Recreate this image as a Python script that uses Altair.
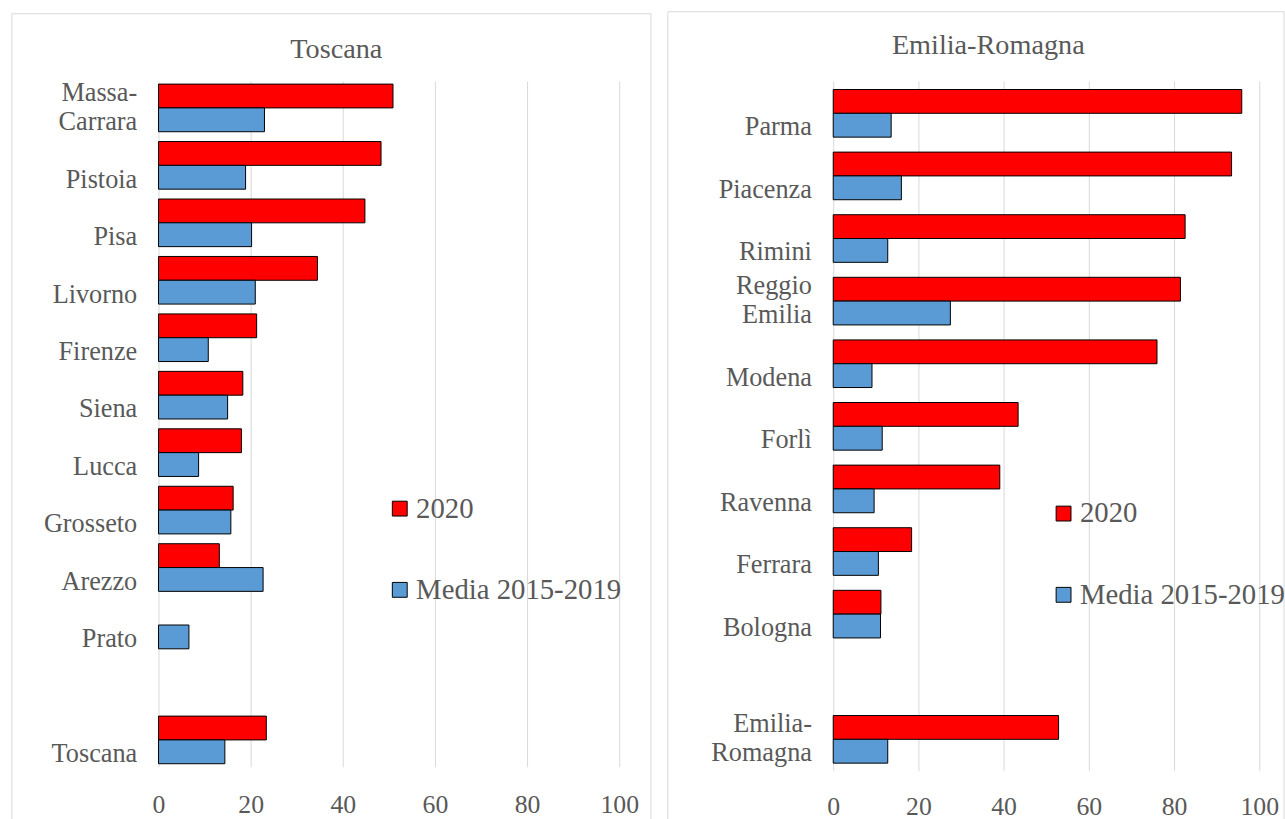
import altair as alt
import pandas as pd

# ---------------- data ----------------
series = ["2020", "Media 2015-2019"]
colors = ["#FF0000", "#5B9BD5"]

tos_cats = ["Massa-Carrara", "Pistoia", "Pisa", "Livorno", "Firenze", "Siena",
            "Lucca", "Grosseto", "Arezzo", "Prato", " ", "Toscana"]
tos_2020 = [50.9, 48.3, 44.8, 34.5, 21.3, 18.3, 18.0, 16.2, 13.2, None, None, 23.4]
tos_media = [23.0, 18.9, 20.2, 21.0, 10.8, 15.0, 8.7, 15.7, 22.7, 6.6, None, 14.4]

er_cats = ["Parma", "Piacenza", "Rimini", "Reggio Emilia", "Modena", "Forlì",
           "Ravenna", "Ferrara", "Bologna", " ", "Emilia-Romagna"]
er_2020 = [95.9, 93.5, 82.6, 81.5, 76.0, 43.4, 39.1, 18.4, 11.2, None, 52.9]
er_media = [13.6, 16.0, 12.8, 27.5, 9.1, 11.5, 9.6, 10.6, 11.1, None, 12.8]

wrapped = {
    "Massa-Carrara": ["Massa-", "Carrara"],
    "Reggio Emilia": ["Reggio", "Emilia"],
    "Emilia-Romagna": ["Emilia-", "Romagna"],
}
x_ticks = [0, 20, 40, 60, 80, 100]

FONT = "Liberation Serif"
GRAY = "#595959"


def make_df(cats, a, b):
    rows = []
    for c, v1, v2 in zip(cats, a, b):
        if v1 is not None:
            rows.append({"cat": c, "serie": series[0], "val": v1})
        if v2 is not None:
            rows.append({"cat": c, "serie": series[1], "val": v2})
    return pd.DataFrame(rows)


def label_expr(cats):
    parts = []
    for c in cats:
        if c in wrapped:
            l1, l2 = wrapped[c]
            parts.append(f"datum.value == '{c}' ? ['{l1}', '{l2}']")
    parts.append("datum.value == ' ' ? ''")
    return " : ".join(parts) + " : ['', datum.value]"


def panel(cats, a, b, title, width, height, p_in, p_out, title_x, title_y,
          leg_x, leg_y, border, xlab_pad):
    df = make_df(cats, a, b)
    bars = alt.Chart(df).mark_bar(stroke="black", strokeWidth=1).encode(
        x=alt.X("val:Q",
                scale=alt.Scale(domain=[0, 100], nice=False),
                axis=alt.Axis(values=x_ticks, title=title, grid=True,
                              gridColor="#d9d9d9", gridWidth=1,
                              domain=False, ticks=False, tickSize=0,
                              labelFlush=False,
                              labelFont=FONT, labelFontSize=26,
                              labelColor=GRAY, labelPadding=xlab_pad,
                              titleFont=FONT, titleFontSize=28.5,
                              titleFontWeight="normal", titleColor=GRAY,
                              titleX=title_x, titleY=title_y,
                              titleAlign="center", titleBaseline="alphabetic",
                              titleAngle=0)),
        y=alt.Y("cat:N",
                scale=alt.Scale(domain=cats, paddingInner=p_in,
                                paddingOuter=p_out),
                axis=alt.Axis(title=None, domain=False, ticks=False,
                              labelFont=FONT, labelFontSize=26.5,
                              labelColor=GRAY, labelPadding=22,
                              labelLineHeight=29, labelAlign="right",
                              labelOffset=-14.5,
                              labelExpr=label_expr(cats))),
        yOffset=alt.YOffset("serie:N", scale=alt.Scale(domain=series,
                                                       paddingInner=0,
                                                       paddingOuter=0)),
        color=alt.Color("serie:N",
                        scale=alt.Scale(domain=series, range=colors),
                        legend=alt.Legend(title=None, orient="none",
                                          legendX=leg_x, legendY=leg_y,
                                          symbolType="square",
                                          symbolSize=225,
                                          symbolStrokeColor="black",
                                          symbolStrokeWidth=1,
                                          labelFont=FONT, labelFontSize=29,
                                          labelColor=GRAY, labelOffset=2,
                                          labelLimit=400, rowPadding=52,
                                          padding=0)),
    )
    frame = alt.Chart(alt.Data(values=[{"k": 1}])).mark_rect(
        fillOpacity=0, stroke="#d9d9d9", strokeWidth=1
    ).encode(x=alt.value(border[0]), x2=alt.value(border[1]),
             y=alt.value(border[2]), y2=alt.value(border[3]))
    return alt.layer(frame, bars).properties(width=width, height=height)


left = panel(tos_cats, tos_2020, tos_media, "Toscana", 465, 692,
             0.171, 0.052, 179, -716, 229, 417, (-148, 497, -68, 750), 25)
right = panel(er_cats, er_2020, er_media, "Emilia-Romagna", 430, 696,
              0.253, 0.134, 156, -724, 218, 422, (-167, 455, -70, 748), 23)

chart = alt.hconcat(left, right, spacing=15).resolve_scale(
    color="independent", y="independent", x="independent"
).resolve_legend(color="independent").properties(
    padding={"left": 11, "top": 7, "right": 0, "bottom": 0},
    background="white",
).configure_view(strokeWidth=0)

chart.save("out.html", embed_options={"renderer": "svg", "actions": False})
